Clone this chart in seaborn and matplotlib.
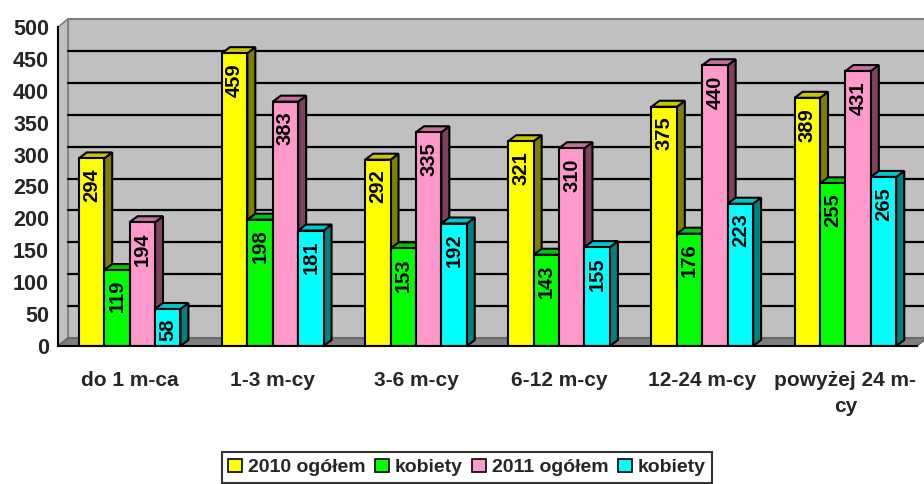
import numpy as np
import pandas as pd
import matplotlib
matplotlib.use("Agg")
import matplotlib.pyplot as plt
import matplotlib.transforms as mtransforms
from matplotlib.patches import Polygon, Patch
import seaborn as sns

# ===========================================
# DANE
# ===========================================
kategorie = ['do 1 m-ca', '1-3 m-cy', '3-6 m-cy', '6-12 m-cy', '12-24 m-cy', 'powyżej 24 m-\ncy']
ogolem_2010 = [294, 459, 292, 321, 375, 389]
kobiety_2010 = [119, 198, 153, 143, 176, 255]
ogolem_2011 = [194, 383, 335, 310, 440, 431]
kobiety_2011 = [58, 181, 192, 155, 223, 265]

serie = ['2010 ogółem', 'kobiety_2010', '2011 ogółem', 'kobiety_2011']
etykiety_legendy = ['2010 ogółem', 'kobiety', '2011 ogółem', 'kobiety']
wartosci = [ogolem_2010, kobiety_2010, ogolem_2011, kobiety_2011]

KOLORY = ['#FFFF00', '#00FF00', '#FF99CC', '#00FFFF']
BOKI = ['#808000', '#008000', '#804060', '#008080']
GORY = ['#C8C800', '#00C800', '#C86E9A', '#00C8C8']

df = pd.DataFrame({
    'kategoria': np.tile(kategorie, len(serie)),
    'seria': np.repeat(serie, len(kategorie)),
    'wartosc': np.concatenate(wartosci),
})

# ===========================================
# WYKRES
# ===========================================
sns.set_theme(style="white")
plt.rcParams['font.family'] = ['Liberation Sans', 'DejaVu Sans']
plt.rcParams['font.weight'] = 'bold'

W, H = 924, 484
fig = plt.figure(figsize=(W / 100, H / 100), dpi=100)
ax = fig.add_axes([58 / W, 1 - 346 / H, (917 - 58) / W, (346 - 27) / H])
ax.set_facecolor('none')

sns.barplot(data=df, x='kategoria', y='wartosc', hue='seria', palette=KOLORY,
            width=0.71, edgecolor='black', linewidth=1.5, legend=False, ax=ax,
            saturation=1, zorder=5)

ax.set_xlim(-0.5, len(kategorie) - 0.5)
ax.set_ylim(0, 500)
fig.canvas.draw()

DX_W, DY_W = 10, 8   # glebokosc sciany
DX_B, DY_B = 8, 6    # glebokosc slupka
IDT = mtransforms.IdentityTransform()


def disp(x, y):
    return ax.transData.transform((x, y))


# sciana tylna, boczna i podloga
x_l, y_0 = disp(-0.5, 0)
x_r, y_top = disp(len(kategorie) - 0.5, 500)
sciana = Polygon([(x_l + DX_W, y_0 + DY_W), (x_r + DX_W, y_0 + DY_W),
                  (x_r + DX_W, y_top + DY_W), (x_l + DX_W, y_top + DY_W)],
                 closed=True, facecolor='#C0C0C0', edgecolor='#808080', lw=1.5,
                 transform=IDT, clip_on=False, zorder=0)
ax.add_patch(sciana)
bok = Polygon([(x_l, y_0), (x_l + DX_W, y_0 + DY_W), (x_l + DX_W, y_top + DY_W), (x_l, y_top)],
              closed=True, facecolor='#C0C0C0', edgecolor='#808080', lw=1.2,
              transform=IDT, clip_on=False, zorder=0)
ax.add_patch(bok)
podloga = Polygon([(x_l, y_0), (x_r, y_0), (x_r + DX_W, y_0 + DY_W), (x_l + DX_W, y_0 + DY_W)],
                  closed=True, facecolor='#808080', edgecolor='#606060', lw=1.0,
                  transform=IDT, clip_on=False, zorder=1)
ax.add_patch(podloga)

for v in range(50, 500, 50):
    _, yv = disp(0, v)
    ax.add_line(plt.Line2D([x_l + DX_W, x_r + DX_W], [yv + DY_W, yv + DY_W], color='black',
                           lw=1.6, transform=IDT, clip_on=False, zorder=0.5))

# slupki 3D
for i, cont in enumerate(ax.containers):
    for p in cont.patches:
        x0 = p.get_x()
        x1 = x0 + p.get_width()
        h = p.get_height()
        z = 5 + x0
        p.set_zorder(z + 0.02)
        (a0, b0) = disp(x0, 0)
        (a1, b1) = disp(x1, h)
        bok_s = Polygon([(a1, b0), (a1 + DX_B, b0 + DY_B), (a1 + DX_B, b1 + DY_B), (a1, b1)],
                        closed=True, facecolor=BOKI[i], edgecolor='black', lw=1.5,
                        transform=IDT, clip_on=False, zorder=z)
        gora = Polygon([(a0, b1), (a0 + DX_B, b1 + DY_B), (a1 + DX_B, b1 + DY_B), (a1, b1)],
                       closed=True, facecolor=GORY[i], edgecolor='black', lw=1.5,
                       transform=IDT, clip_on=False, zorder=z)
        ax.add_patch(bok_s)
        ax.add_patch(gora)
        etyk = mtransforms.offset_copy(ax.transData, fig, x=0, y=-10, units='dots')
        ax.text(x0 + p.get_width() / 2, h, f'{int(h)}', rotation=90, ha='center', va='top',
                fontsize=14.5, fontweight='bold', color='black', transform=etyk,
                zorder=z + 0.05, clip_on=True)

# osie
ax.set_yticks(np.arange(0, 501, 50))
ax.set_yticklabels([str(v) for v in range(0, 501, 50)], fontsize=15.5, fontweight='bold')
ax.set_xticks(np.arange(-0.5, len(kategorie), 1))
ax.set_xticklabels([])
ax.set_xticks(np.arange(len(kategorie)), minor=True)
ax.set_xticklabels(kategorie, minor=True, fontsize=15, fontweight='bold', linespacing=1.45)
ax.tick_params(axis='x', which='major', direction='out', length=5, width=1.5, color='black')
ax.tick_params(axis='x', which='minor', length=0, pad=18)
ax.tick_params(axis='y', direction='out', length=6, width=1.5, color='black', pad=0.5)
ax.set_xlabel('')
ax.set_ylabel('')
for s in ['top', 'right']:
    ax.spines[s].set_visible(False)
for s in ['left', 'bottom']:
    ax.spines[s].set_color('black')
    ax.spines[s].set_linewidth(1.5)
    ax.spines[s].set_zorder(20)

uchwyty = [Patch(facecolor=c, edgecolor='black', lw=1.2) for c in KOLORY]
leg = fig.legend(uchwyty, etykiety_legendy, loc='upper center', ncol=4,
                 bbox_to_anchor=(467 / W, 1 - 452 / H), borderaxespad=0,
                 frameon=True, fancybox=False,
                 handlelength=0.7, handleheight=0.7, handletextpad=0.3, columnspacing=0.5,
                 borderpad=0.35, prop={'size': 14, 'weight': 'bold'})
leg.get_frame().set_edgecolor('black')
leg.get_frame().set_linewidth(1.5)

fig.savefig('out.png', dpi=100)
